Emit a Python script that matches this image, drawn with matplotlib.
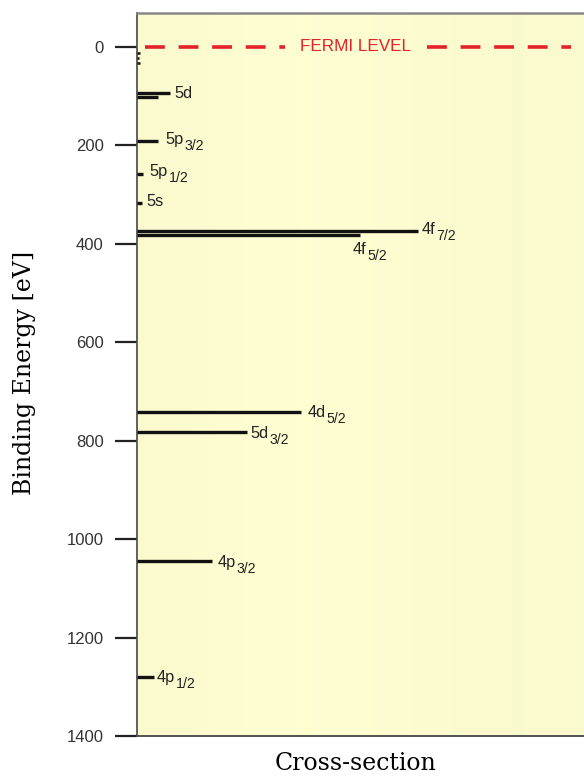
import numpy as np
import matplotlib
matplotlib.use("Agg")
import matplotlib.pyplot as plt
from matplotlib.transforms import offset_copy

# Core levels: binding energy [eV] and relative cross-section (arb. units)
level_names = ['5d', '5d', '5p', '5p', '5s', '4f', '4f', '4d', '5d', '4p', '4p']
level_j = ['', '', '3/2', '1/2', '', '7/2', '5/2', '5/2', '3/2', '3/2', '1/2']
binding = [93, 102, 192, 258, 318, 374, 383, 741, 783, 1045, 1280]
cross_section = [7.4, 4.7, 4.7, 1.3, 1.1, 62.9, 49.9, 36.8, 24.5, 16.8, 3.8]
show_label = [True, False, True, True, True, True, True, True, True, True, True]

# shallow valence states just below the Fermi level
shallow_binding = [12, 22, 32]
shallow_cs = [0.6, 0.5, 0.6]

yticks = [0, 200, 400, 600, 800, 1000, 1200, 1400]

fig = plt.figure(figsize=(5.84, 7.76), dpi=100)
W, H = 584, 776
ax = fig.add_axes([137 / W, (H - 736) / H, (584 - 137) / W, (736 - 13) / H])

xmax = 100
ymin, ymax = -69, 1400
ax.set_xlim(0, xmax)
ax.set_ylim(ymax, ymin)

# pale yellow background with soft vertical shading
xs = np.linspace(0, 1, 400)
shade = 1 - 0.008 * np.exp(-((xs - 0.05) / 0.12) ** 2) + 0.008 * np.exp(-((xs - 0.38) / 0.2) ** 2) \
        - 0.008 * np.exp(-((xs - 0.85) / 0.2) ** 2)
base = np.array([252, 252, 208]) / 255
img = np.clip(base[None, None, :] * shade[None, :, None], 0, 1)
img = np.repeat(img, 2, axis=0)
ax.imshow(img, extent=[0, xmax, ymax, ymin], aspect='auto', zorder=0)

# Fermi level
red = '#e4222a'
ax.plot([1.8, 33.0], [0, 0], color=red, lw=2.6, ls=(0, (5.5, 3.8)), zorder=3,
        dash_capstyle='butt')
ax.plot([64.8, 97], [0, 0], color=red, lw=2.6, ls=(0, (5.5, 3.8)), zorder=3,
        dash_capstyle='butt')
ax.text(48.9, 0, 'FERMI LEVEL', color=red, fontsize=12.3, family='Liberation Sans',
        ha='center', va='center', zorder=4)

# energy levels
for e, cs in zip(binding, cross_section):
    ax.plot([0, cs], [e, e], color='#111111', lw=2.4, solid_capstyle='butt', zorder=3)

for e, cs in zip(shallow_binding, shallow_cs):
    ax.plot([0, cs], [e, e], color='#111111', lw=1.8, solid_capstyle='butt', zorder=3)

# labels (orbital + j subscript), offset from each line end
offsets = {
    0: (0.9, 2), 2: (1.7, -4), 3: (1.5, -4), 4: (1.0, -5), 5: (0.8, -3),
    6: (-1.6, 29), 7: (1.4, 2), 8: (0.9, 3), 9: (1.2, 2), 10: (0.6, 2),
}
renderer = fig.canvas.get_renderer()
txt_kw = dict(family='Liberation Sans', color='#222222', zorder=4)
for i, (nm, j, e, cs, show) in enumerate(zip(level_names, level_j, binding,
                                              cross_section, show_label)):
    if not show:
        continue
    dx, dy = offsets[i]
    t = ax.text(cs + dx, e + dy, nm, fontsize=11.8, ha='left', va='center', **txt_kw)
    if j:
        bb = t.get_window_extent(renderer=renderer)
        trans = offset_copy(ax.transData, fig=fig, x=(bb.width + 1) * 72 / fig.dpi,
                            y=-4.5, units='points')
        ax.text(cs + dx, e + dy, j, fontsize=10.2, ha='left', va='center',
                transform=trans, **txt_kw)

# axes styling
ax.set_yticks(yticks)
ax.set_yticklabels([str(t) for t in yticks], family='Liberation Sans', fontsize=12,
                   color='#333333')
ax.tick_params(axis='y', direction='out', length=16, width=1.6, pad=8, color='#222222')
ax.set_xticks([])
ax.spines['right'].set_visible(False)
ax.spines['left'].set_color('#555555')
ax.spines['left'].set_linewidth(1.3)
ax.spines['bottom'].set_color('#444444')
ax.spines['bottom'].set_linewidth(1.3)
ax.spines['top'].set_color('#888888')
ax.spines['top'].set_linewidth(1.8)

fig.text(356 / W, 1 - 763 / H, 'Cross-section', family='DejaVu Serif', fontsize=17,
         ha='center', va='center')
fig.text(25 / W, 1 - 373 / H, 'Binding Energy [eV]', family='DejaVu Serif', fontsize=17,
         ha='center', va='center', rotation=90)

fig.savefig('out.png', dpi=100)
